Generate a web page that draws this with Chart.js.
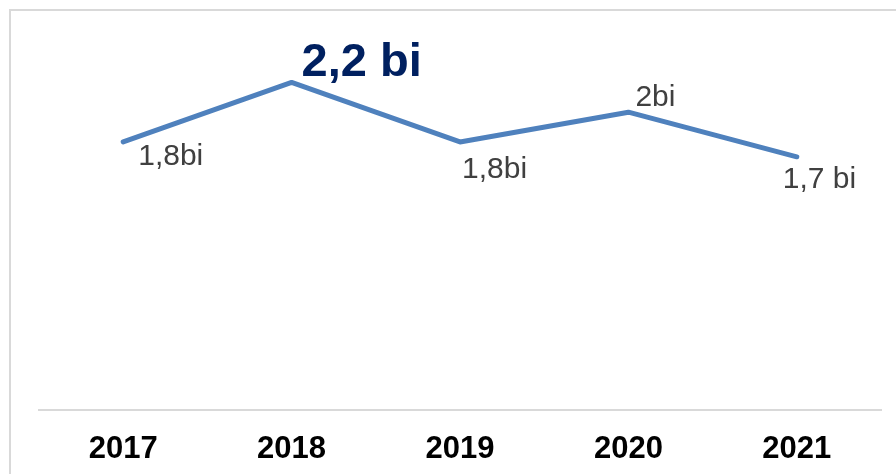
<!DOCTYPE html>
<html>
<head>
<meta charset="utf-8">
<script src="https://cdn.jsdelivr.net/npm/chart.js@4"></script>
<style>
  html, body { margin: 0; padding: 0; background: #fff; }
  #wrap { width: 896px; height: 474px; }
</style>
</head>
<body>
<div id="wrap"><canvas id="yearChart" width="896" height="474"></canvas></div>
<script>
// DATA
const years = ['2017', '2018', '2019', '2020', '2021'];
const totals = [1.8, 2.2, 1.8, 2.0, 1.7];
const totalLabels = ['1,8bi', '2,2 bi', '1,8bi', '2bi', '1,7 bi'];

// label placement relative to each point (dx = left edge, dy = text middle)
const labelOffsets = [[15, 15], [10, -19], [2, 28], [7, -14], [-14, 23]];
const FONT = "'Liberation Sans', Arial, sans-serif";

// light gray frame around the chart
const framePlugin = {
    id: 'frame',
    beforeDraw(chart) {
        const ctx = chart.ctx;
        ctx.save();
        ctx.strokeStyle = '#d9d9d9';
        ctx.lineWidth = 2;
        ctx.strokeRect(10, 10, 1000, 1000);
        ctx.restore();
    }
};

// value labels next to each point
const valueLabels = {
    id: 'valueLabels',
    afterDatasetsDraw(chart) {
        const ctx = chart.ctx;
        const meta = chart.getDatasetMeta(0);
        ctx.save();
        ctx.textAlign = 'left';
        ctx.textBaseline = 'middle';
        meta.data.forEach((pt, i) => {
            const peak = i === 1;
            ctx.font = peak ? `bold 47px ${FONT}` : `30px ${FONT}`;
            ctx.fillStyle = peak ? '#002060' : '#404040';
            ctx.fillText(totalLabels[i], pt.x + labelOffsets[i][0], pt.y + labelOffsets[i][1]);
        });
        ctx.restore();
    }
};

const ctx = document.getElementById('yearChart').getContext('2d');
const yearChart = new Chart(ctx, {
    type: 'line',
    data: {
        labels: years,
        datasets: [{
            data: totals,
            borderColor: '#4f81bd',
            borderWidth: 5,
            borderCapStyle: 'round',
            borderJoinStyle: 'round',
            pointRadius: 0,
            tension: 0
        }]
    },
    options: {
        responsive: false,
        animation: false,
        layout: { padding: { left: 39, right: 15, top: 8, bottom: -15 } },
        plugins: { legend: { display: false }, tooltip: { enabled: false } },
        scales: {
            x: {
                offset: true,
                grid: { display: false, drawTicks: false },
                border: { display: true, color: '#d9d9d9', width: 2 },
                ticks: {
                    color: '#000',
                    padding: 21,
                    font: { family: FONT, size: 31, weight: 'bold' }
                }
            },
            y: {
                display: false,
                min: 0,
                max: 2.7
            }
        }
    },
    plugins: [framePlugin, valueLabels]
});
</script>
</body>
</html>
